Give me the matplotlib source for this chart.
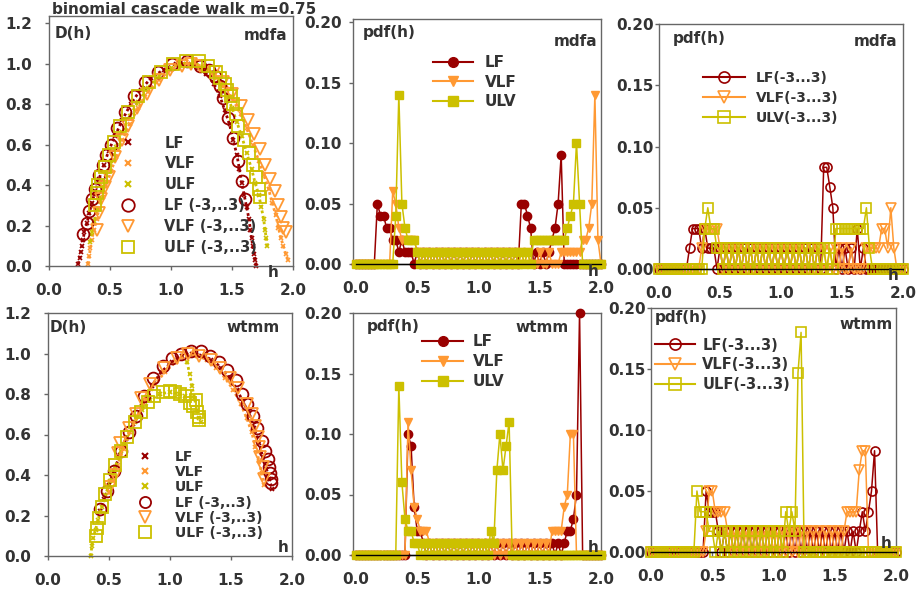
import numpy as np
import matplotlib.pyplot as plt
from matplotlib.lines import Line2D

plt.rcParams['font.family'] = ['DejaVu Sans']
plt.rcParams['font.weight'] = 'bold'

C_LF = '#990000'
C_VLF = '#FF9933'
C_ULF = '#CCC000'
TXT = '#333333'

# ---------------- D(h) spectra, mdfa (top left) ----------------
mdfa_lf_h = [0.24, 0.25, 0.26, 0.27, 0.28, 0.29, 0.31, 0.33, 0.35, 0.38, 0.41, 0.45, 0.49, 0.54, 0.60,
             0.67, 0.75, 0.84, 0.94, 1.04, 1.14, 1.22, 1.29, 1.35, 1.40, 1.44, 1.48, 1.51, 1.54, 1.56,
             1.58, 1.60, 1.62, 1.64, 1.65, 1.66, 1.67, 1.68, 1.69, 1.70]
mdfa_lf_D = [0.01, 0.04, 0.07, 0.10, 0.13, 0.17, 0.21, 0.26, 0.31, 0.37, 0.43, 0.50, 0.57, 0.64, 0.72,
             0.80, 0.87, 0.93, 0.97, 1.00, 1.00, 0.98, 0.95, 0.90, 0.84, 0.77, 0.70, 0.62, 0.55, 0.48,
             0.41, 0.35, 0.29, 0.23, 0.18, 0.14, 0.10, 0.06, 0.03, 0.00]
mdfa_vlf_h = [0.32, 0.33, 0.34, 0.35, 0.37, 0.39, 0.41, 0.44, 0.47, 0.51, 0.55, 0.60, 0.66, 0.73, 0.81,
              0.90, 1.00, 1.10, 1.20, 1.30, 1.38, 1.45, 1.51, 1.57, 1.62, 1.67, 1.72, 1.76, 1.80, 1.83,
              1.86, 1.88, 1.90, 1.92, 1.94, 1.96]
mdfa_vlf_D = [0.01, 0.05, 0.09, 0.13, 0.18, 0.23, 0.28, 0.34, 0.40, 0.47, 0.54, 0.62, 0.70, 0.78, 0.86,
              0.92, 0.97, 1.00, 1.00, 0.97, 0.93, 0.88, 0.82, 0.75, 0.68, 0.60, 0.52, 0.45, 0.38, 0.31,
              0.25, 0.19, 0.14, 0.10, 0.06, 0.03]
mdfa_ulf_h = [0.34, 0.35, 0.37, 0.39, 0.41, 0.44, 0.47, 0.51, 0.55, 0.60, 0.66, 0.73, 0.81, 0.90, 1.00,
              1.10, 1.20, 1.28, 1.35, 1.41, 1.46, 1.50, 1.54, 1.58, 1.62, 1.66, 1.69, 1.72, 1.74, 1.76,
              1.77, 1.78, 1.79]
mdfa_ulf_D = [0.12, 0.17, 0.22, 0.28, 0.33, 0.39, 0.45, 0.52, 0.59, 0.66, 0.74, 0.81, 0.88, 0.94, 0.98,
              1.00, 1.00, 0.98, 0.95, 0.90, 0.84, 0.78, 0.71, 0.64, 0.56, 0.48, 0.41, 0.35, 0.29, 0.23,
              0.18, 0.14, 0.10]
mdfa_lf3_h = [0.28, 0.31, 0.33, 0.35, 0.38, 0.41, 0.44, 0.47, 0.51, 0.56, 0.62, 0.70, 0.79, 0.89, 1.01,
              1.13, 1.24, 1.31, 1.36, 1.40, 1.43, 1.47, 1.51, 1.55, 1.58, 1.61]
mdfa_lf3_D = [0.16, 0.21, 0.27, 0.33, 0.38, 0.45, 0.50, 0.55, 0.60, 0.68, 0.76, 0.84, 0.91, 0.96, 1.00,
              1.01, 0.99, 0.97, 0.94, 0.89, 0.83, 0.73, 0.63, 0.52, 0.42, 0.33]
mdfa_vlf3_h = [0.39, 0.41, 0.43, 0.46, 0.49, 0.54, 0.60, 0.65, 0.72, 0.80, 0.90, 0.99, 1.09, 1.16, 1.24,
               1.35, 1.43, 1.50, 1.57, 1.63, 1.68, 1.73, 1.77, 1.81, 1.85, 1.88, 1.90, 1.92, 1.94]
mdfa_vlf3_D = [0.18, 0.26, 0.33, 0.39, 0.44, 0.54, 0.62, 0.69, 0.78, 0.85, 0.92, 0.97, 0.99, 1.00, 0.99,
               0.96, 0.91, 0.85, 0.79, 0.72, 0.65, 0.58, 0.50, 0.43, 0.37, 0.30, 0.24, 0.19, 0.17]
mdfa_ulf3_h = [0.38, 0.39, 0.40, 0.43, 0.46, 0.49, 0.53, 0.58, 0.65, 0.73, 0.82, 0.92, 1.02, 1.12, 1.23,
               1.30, 1.37, 1.40, 1.44, 1.46, 1.49, 1.51, 1.53, 1.55, 1.60, 1.64, 1.67, 1.70, 1.72, 1.73]
mdfa_ulf3_D = [0.30, 0.36, 0.40, 0.44, 0.49, 0.55, 0.61, 0.69, 0.76, 0.84, 0.91, 0.96, 1.00, 1.01, 1.01,
               0.99, 0.96, 0.93, 0.90, 0.87, 0.84, 0.80, 0.75, 0.69, 0.62, 0.56, 0.50, 0.44, 0.38, 0.34]

# ---------------- D(h) spectra, wtmm (bottom left) ----------------
wtmm_lf_h = [0.43, 0.46, 0.50, 0.54, 0.59, 0.64, 0.70, 0.77, 0.85, 0.93, 1.02, 1.10, 1.18, 1.26, 1.34,
             1.42, 1.49, 1.55, 1.60, 1.65, 1.69, 1.73, 1.76, 1.79, 1.81, 1.84]
wtmm_lf_D = [0.22, 0.28, 0.35, 0.42, 0.50, 0.58, 0.65, 0.74, 0.84, 0.91, 0.96, 0.99, 1.00, 0.99, 0.97,
             0.93, 0.88, 0.82, 0.76, 0.70, 0.63, 0.56, 0.49, 0.43, 0.38, 0.33]
wtmm_vlf_h = [0.50, 0.53, 0.57, 0.62, 0.67, 0.73, 0.80, 0.88, 0.96, 1.05, 1.14, 1.22, 1.30, 1.38, 1.45,
              1.52, 1.58, 1.63, 1.67, 1.70, 1.73, 1.75, 1.77]
wtmm_vlf_D = [0.31, 0.37, 0.45, 0.53, 0.61, 0.69, 0.77, 0.85, 0.91, 0.96, 0.99, 0.99, 0.97, 0.93, 0.88,
              0.82, 0.75, 0.68, 0.61, 0.54, 0.47, 0.41, 0.35]
wtmm_ulf_h = [0.35, 0.36, 0.37, 0.39, 0.41, 0.44, 0.47, 0.51, 0.55, 0.60, 0.65, 0.71, 0.77, 0.84, 0.92,
              1.00, 1.07, 1.12, np.nan, 1.14, 1.16, 1.18, 1.20, 1.22, 1.24, 1.25]
wtmm_ulf_D = [0.00, 0.05, 0.09, 0.13, 0.18, 0.24, 0.30, 0.37, 0.44, 0.52, 0.59, 0.66, 0.72, 0.77, 0.80,
              0.81, 0.80, 0.79, np.nan, 0.96, 0.90, 0.84, 0.78, 0.72, 0.68, 0.66]
wtmm_lf3_h = [0.43, 0.48, 0.54, 0.60, 0.66, 0.72, 0.79, 0.86, 0.94, 1.02, 1.09, 1.17, 1.25, 1.33, 1.40,
              1.47, 1.54, 1.59, 1.63, 1.68, 1.71, 1.75, 1.78, 1.80, 1.81, 1.82, 1.83, 1.83]
wtmm_lf3_D = [0.23, 0.32, 0.42, 0.52, 0.61, 0.69, 0.79, 0.88, 0.94, 0.98, 1.00, 1.01, 1.01, 0.99, 0.96,
              0.92, 0.87, 0.80, 0.75, 0.69, 0.63, 0.57, 0.52, 0.48, 0.44, 0.41, 0.38, 0.36]
wtmm_vlf3_h = [0.51, 0.55, 0.57, 0.59, 0.66, 0.72, 0.76, 0.84, 0.95, 1.06, 1.15, 1.24, 1.34, 1.41, 1.49,
               1.56, 1.63, 1.67, 1.70, 1.72, 1.73, 1.74, 1.76, 1.77]
wtmm_vlf3_D = [0.34, 0.40, 0.51, 0.56, 0.63, 0.70, 0.78, 0.85, 0.93, 0.98, 1.00, 0.99, 0.97, 0.93, 0.88,
               0.83, 0.75, 0.70, 0.64, 0.59, 0.54, 0.49, 0.44, 0.38]
wtmm_ulf3_h = [0.39, 0.40, 0.415, 0.44, 0.47, 0.505, 0.55, 0.60, 0.65, 0.71, 0.76, 0.82, 0.87, 0.94, 1.00,
               1.04, 1.085, 1.125, 1.16, 1.19, 1.21, 1.22, 1.235, 1.24]
wtmm_ulf3_D = [0.10, 0.14, 0.19, 0.24, 0.305, 0.375, 0.45, 0.52, 0.59, 0.66, 0.71, 0.76, 0.79, 0.81, 0.817,
               0.81, 0.80, 0.79, 0.755, 0.74, 0.77, 0.713, 0.685, 0.67]

# ---------------- pdf(h) histograms, bins 0..2 step 0.025 ----------------
h_bins = np.linspace(0, 2, 81)

pdf_mdfa_lf = [0, 0, 0, 0, 0, 0, 0, .05, .04, .04,
               .03, .03, .02, .02, .01, .02, .01, .01, .01, 0,
               .01, 0, .01, 0, .01, 0, .01, 0, .01, 0,
               .01, 0, .01, 0, .01, 0, .01, 0, .01, 0,
               .01, 0, .01, 0, .01, 0, .01, 0, .01, 0,
               .01, 0, .01, 0, .05, .05, .04, .03, 0, .01,
               0, .01, 0, .01, .02, .03, .05, .09, 0, 0,
               0, 0, 0, 0, 0, 0, 0, 0, 0, 0,
               0]
pdf_mdfa_vlf = [0, 0, 0, 0, 0, 0, 0, 0, 0, 0,
                0, 0, .06, .05, .03, .02, .02, .02, .02, .02,
                .01, 0, .01, 0, .01, 0, .01, 0, .01, 0,
                .01, 0, .01, 0, .01, 0, .01, 0, .01, 0,
                .01, 0, .01, 0, .01, 0, .01, 0, .01, 0,
                .01, 0, .01, 0, .01, 0, .01, 0, 0, 0,
                .01, 0, 0, .01, 0, 0, 0, .01, .01, .01,
                .01, .01, .01, .01, .02, .02, .03, .05, .14, .02,
                0]
pdf_mdfa_ulv = [0, 0, 0, 0, 0, 0, 0, 0, 0, 0,
                0, 0, 0, .04, .14, .05, .03, .02, .02, .02,
                .01, 0, .01, 0, .01, 0, .01, 0, .01, 0,
                .01, 0, .01, 0, .01, 0, .01, 0, .01, 0,
                .01, 0, .01, 0, .01, 0, .01, 0, .01, 0,
                .01, 0, .01, 0, .01, 0, .01, 0, .02, .02,
                .02, .02, .02, .02, .02, .02, .02, .02, .02, .03,
                .04, .05, .10, .05, 0, 0, 0, 0, 0, 0,
                0]
pdf_mdfa3_lf = [0, 0, 0, 0, 0, 0, 0, 0, 0, 0,
                .017, .033, .033, .033, .017, .033, .017, .017, .017, 0,
                .017, 0, .017, 0, .017, 0, .017, 0, .017, 0,
                .017, 0, .017, 0, .017, 0, .017, 0, .017, 0,
                .017, 0, .017, 0, .017, 0, .017, 0, .017, 0,
                .017, 0, .017, 0, .083, .083, .067, .05, 0, .017,
                0, .017, 0, .017, 0, .033, 0, .017, 0, 0,
                0, 0, 0, 0, 0, 0, 0, 0, 0, 0,
                0]
pdf_mdfa3_vlf = [0, 0, 0, 0, 0, 0, 0, 0, 0, 0,
                 0, 0, 0, 0, .017, .033, .033, .033, .033, .033,
                 .017, 0, .017, 0, .017, 0, .017, 0, .017, 0,
                 .017, 0, .017, 0, .017, 0, .017, 0, .017, 0,
                 .017, 0, .017, 0, .017, 0, .017, 0, .017, 0,
                 .017, 0, .017, 0, .017, 0, .017, 0, .017, 0,
                 .017, 0, 0, .017, 0, 0, 0, 0, .017, .017,
                 .017, .017, .017, .033, .033, .017, .05, .017, 0, 0,
                 0]
pdf_mdfa3_ulv = [0, 0, 0, 0, 0, 0, 0, 0, 0, 0,
                 0, 0, 0, 0, 0, .033, .05, .033, .033, .017,
                 .017, 0, .017, 0, .017, 0, .017, 0, .017, 0,
                 .017, 0, .017, 0, .017, 0, .017, 0, .017, 0,
                 .017, 0, .017, 0, .017, 0, .017, 0, .017, 0,
                 .017, 0, .017, 0, .017, 0, .017, 0, .033, .033,
                 .033, .033, .033, .033, .033, .033, .033, .033, .05, .017,
                 0, 0, 0, 0, 0, 0, 0, 0, 0, 0,
                 0]
pdf_wtmm_lf = [0, 0, 0, 0, 0, 0, 0, 0, 0, 0,
               0, 0, 0, 0, 0, 0, 0, .10, .09, .04,
               .02, .02, .01, 0, .01, 0, .01, 0, .01, 0,
               .01, 0, .01, 0, .01, 0, .01, 0, .01, 0,
               .01, 0, .01, 0, .01, 0, .01, 0, .01, 0,
               .01, 0, .01, 0, .01, 0, .01, 0, .01, 0,
               .01, 0, .01, 0, .01, 0, .01, 0, .01, .02,
               .02, .03, .05, .20, 0, 0, 0, 0, 0, 0,
               0]
pdf_wtmm_vlf = [0, 0, 0, 0, 0, 0, 0, 0, 0, 0,
                0, 0, 0, 0, 0, 0, 0, .11, .07, .04,
                .03, .02, .02, .02, .01, 0, .01, 0, .01, 0,
                .01, 0, .01, 0, .01, 0, .01, 0, .01, 0,
                .01, 0, .01, 0, .01, 0, .01, 0, .01, 0,
                .01, 0, .01, 0, .01, 0, .01, 0, .01, 0,
                .01, 0, .01, 0, .02, .02, .02, .02, .04, .05,
                .10, .10, 0, 0, 0, 0, 0, 0, 0, 0,
                0]
pdf_wtmm_ulv = [0, 0, 0, 0, 0, 0, 0, 0, 0, 0,
                0, 0, 0, 0, .14, .06, .03, .02, .02, .01,
                .01, 0, .01, 0, .01, 0, .01, 0, .01, 0,
                .01, 0, .01, 0, .01, 0, .01, 0, .01, 0,
                .01, 0, .01, 0, .02, .01, .07, .10, .07, .09,
                .11, 0, 0, 0, 0, 0, 0, 0, 0, 0,
                0, 0, 0, 0, 0, 0, 0, 0, 0, 0,
                0, 0, 0, 0, 0, 0, 0, 0, 0, 0,
                0]
pdf_wtmm3_lf = [0, 0, 0, 0, 0, 0, 0, 0, 0, 0,
                0, 0, 0, 0, 0, 0, 0, 0, .05, .033,
                .033, .033, .017, 0, .017, 0, .017, 0, .017, 0,
                .017, 0, .017, 0, .017, 0, .017, 0, .017, 0,
                .017, 0, .017, 0, .017, 0, .017, 0, .017, 0,
                .017, 0, .017, 0, .017, 0, .017, 0, .017, 0,
                .017, 0, .017, 0, .017, 0, .017, 0, .017, .033,
                .017, .033, .05, .083, 0, 0, 0, 0, 0, 0,
                0]
pdf_wtmm3_vlf = [0, 0, 0, 0, 0, 0, 0, 0, 0, 0,
                 0, 0, 0, 0, 0, 0, 0, 0, .017, .05,
                 .05, .033, .033, .033, .033, .017, 0, .017, 0, .017,
                 0, .017, 0, .017, 0, .017, 0, .017, 0, .017,
                 0, .017, 0, .017, 0, .017, 0, .017, 0, .017,
                 0, .017, 0, .017, 0, .017, 0, .017, 0, .017,
                 0, .017, 0, .017, .033, .033, .033, .033, .067, .083,
                 .083, 0, 0, 0, 0, 0, 0, 0, 0, 0,
                 0]
pdf_wtmm3_ulf = [0, 0, 0, 0, 0, 0, 0, 0, 0, 0,
                 0, 0, 0, 0, 0, .05, .033, .033, .033, .017,
                 .017, 0, .017, 0, .017, 0, .017, 0, .017, 0,
                 .017, 0, .017, 0, .017, 0, .017, 0, .017, 0,
                 .017, 0, .017, 0, .033, .017, .033, .017, .147, .18,
                 0, 0, 0, 0, 0, 0, 0, 0, 0, 0,
                 0, 0, 0, 0, 0, 0, 0, 0, 0, 0,
                 0, 0, 0, 0, 0, 0, 0, 0, 0, 0,
                 0]

W, H = 916, 591
fig = plt.figure(figsize=(W / 100, H / 100), dpi=100)


def px(x, y):
    return x / W, 1 - y / H


def add_ax(x0, x1, ytop, ybot):
    return fig.add_axes([x0 / W, 1 - ybot / H, (x1 - x0) / W, (ybot - ytop) / H])


def style(ax, yticks, fmt, ypad):
    for s in ax.spines.values():
        s.set_color('#666666')
        s.set_linewidth(1.0)
    ax.set_xticks([0, 0.5, 1.0, 1.5, 2.0])
    ax.set_xticklabels(['%.1f' % v for v in [0, 0.5, 1.0, 1.5, 2.0]])
    ax.set_yticks(yticks)
    ax.set_yticklabels([fmt % v for v in yticks])
    ax.tick_params(axis='both', direction='out', length=3, width=1, colors='#666666',
                   labelcolor=TXT, labelsize=11)
    ax.tick_params(axis='x', pad=9.5)
    ax.tick_params(axis='y', pad=ypad)


def dense(ax, h, d, c):
    ax.plot(h, d, ls=(0, (1, 1)), lw=2.0, color=c, marker='x', ms=3, mew=1.2, clip_on=False, zorder=2)


def open_pts(ax, h, d, c, m, ms):
    ax.plot(h, d, ls='none', marker=m, ms=ms, mfc='none', mec=c, mew=1.3, clip_on=False, zorder=3)


def spectrum_legend(ax, anchor, fs, ls, hl, tp, ms_open, labels3):
    handles = [Line2D([], [], ls='none', marker='x', color=C_LF, ms=4, mew=1.5),
               Line2D([], [], ls='none', marker='x', color=C_VLF, ms=4, mew=1.5),
               Line2D([], [], ls='none', marker='x', color=C_ULF, ms=4, mew=1.5),
               Line2D([], [], ls='none', marker='o', mfc='none', mec=C_LF, ms=ms_open, mew=1.3),
               Line2D([], [], ls='none', marker='v', mfc='none', mec=C_VLF, ms=ms_open, mew=1.3),
               Line2D([], [], ls='none', marker='s', mfc='none', mec=C_ULF, ms=ms_open, mew=1.3)]
    labels = ['LF', 'VLF', 'ULF'] + labels3
    leg = ax.legend(handles, labels, loc='upper left', bbox_to_anchor=anchor, frameon=False,
                    fontsize=fs, labelspacing=ls, handlelength=hl, handletextpad=tp,
                    borderpad=0, borderaxespad=0)
    for t in leg.get_texts():
        t.set_color(TXT)


def pdf_panel(ax, series, filled, ms):
    for vals, c, m in series:
        if filled:
            ax.plot(h_bins, vals, color=c, lw=1.1, marker=m, ms=ms, mfc=c, mec=c, clip_on=False, zorder=3)
        else:
            ax.plot(h_bins, vals, color=c, lw=1.1, marker=m, ms=ms, mfc='none', mec=c, mew=1.2,
                    clip_on=False, zorder=3)
    ax.plot([0, 2], [0, 0], color='black', lw=1.0, zorder=6, clip_on=False)


def pdf_legend(ax, labels, anchor, fs, ls, hl, tp, filled, ms):
    handles = []
    for c, m in [(C_LF, 'o'), (C_VLF, 'v'), (C_ULF, 's')]:
        if filled:
            handles.append(Line2D([], [], color=c, lw=1.5, marker=m, ms=ms, mfc=c, mec=c))
        else:
            handles.append(Line2D([], [], color=c, lw=1.5, marker=m, ms=ms, mfc='none', mec=c, mew=1.2))
    leg = ax.legend(handles, labels, loc='upper left', bbox_to_anchor=anchor, frameon=False,
                    fontsize=fs, labelspacing=ls, handlelength=hl, handletextpad=tp,
                    borderpad=0, borderaxespad=0)
    for t in leg.get_texts():
        t.set_color(TXT)


pdf_yt = [0, 0.05, 0.10, 0.15, 0.20]
d_yt = [0, 0.2, 0.4, 0.6, 0.8, 1.0, 1.2]

# ---- top left: D(h) mdfa
ax = add_ax(49, 293, 16, 266)
ax.set_xlim(0, 2)
ax.set_ylim(0, 1.2346)
style(ax, d_yt, '%.1f', 9)
dense(ax, mdfa_lf_h, mdfa_lf_D, C_LF)
dense(ax, mdfa_vlf_h, mdfa_vlf_D, C_VLF)
dense(ax, mdfa_ulf_h, mdfa_ulf_D, C_ULF)
open_pts(ax, mdfa_lf3_h, mdfa_lf3_D, C_LF, 'o', 8.5)
open_pts(ax, mdfa_vlf3_h, mdfa_vlf3_D, C_VLF, 'v', 8.5)
open_pts(ax, mdfa_ulf3_h, mdfa_ulf3_D, C_ULF, 's', 8)
spectrum_legend(ax, (0.276, 0.522), 10.5, 0.41, 1.6, 1.7, 9,
                ['LF (-3,..3)', 'VLF (-3,..3)', 'ULF (-3,..3)'])

# ---- top middle: pdf mdfa
ax = add_ax(353, 601, 19, 264)
ax.set_xlim(-0.024, 2.0)
ax.set_ylim(0, 0.2025)
style(ax, pdf_yt, '%.2f', 5)
pdf_panel(ax, [(pdf_mdfa_lf, C_LF, 'o'), (pdf_mdfa_vlf, C_VLF, 'v'), (pdf_mdfa_ulv, C_ULF, 's')], True, 6)
pdf_legend(ax, ['LF', 'VLF', 'ULV'], (0.323, 0.853), 11, 0.3, 2.6, 0.8, True, 7)

# ---- top right: pdf mdfa (-3..3)
ax = add_ax(659, 903, 24, 269)
ax.set_xlim(0, 2)
ax.set_ylim(0, 0.2)
style(ax, pdf_yt, '%.2f', 1)
pdf_panel(ax, [(pdf_mdfa3_lf, C_LF, 'o'), (pdf_mdfa3_vlf, C_VLF, 'v'), (pdf_mdfa3_ulv, C_ULF, 's')], False, 6.5)
pdf_legend(ax, ['LF(-3...3)', 'VLF(-3...3)', 'ULV(-3...3)'], (0.18, 0.809), 10, 0.45, 3.0, 0.8, False, 8)

# ---- bottom left: D(h) wtmm
ax = add_ax(48, 292, 313, 556)
ax.set_xlim(0, 2)
ax.set_ylim(0, 1.2)
style(ax, d_yt, '%.1f', 9)
dense(ax, wtmm_lf_h, wtmm_lf_D, C_LF)
dense(ax, wtmm_vlf_h, wtmm_vlf_D, C_VLF)
dense(ax, wtmm_ulf_h, wtmm_ulf_D, C_ULF)
open_pts(ax, wtmm_lf3_h, wtmm_lf3_D, C_LF, 'o', 8.5)
open_pts(ax, wtmm_vlf3_h, wtmm_vlf3_D, C_VLF, 'v', 8.5)
open_pts(ax, wtmm_ulf3_h, wtmm_ulf3_D, C_ULF, 's', 8)
spectrum_legend(ax, (0.352, 0.437), 10, 0.09, 1.6, 1.36, 8,
                ['LF (-3,..3)', 'VLF (-3,..3)', 'ULF (-3,..3)'])

# ---- bottom middle: pdf wtmm
ax = add_ax(353, 601, 313, 555)
ax.set_xlim(-0.024, 2.0)
ax.set_ylim(0, 0.2)
style(ax, pdf_yt, '%.2f', 5)
pdf_panel(ax, [(pdf_wtmm_lf, C_LF, 'o'), (pdf_wtmm_vlf, C_VLF, 'v'), (pdf_wtmm_ulv, C_ULF, 's')], True, 6)
pdf_legend(ax, ['LF', 'VLF', 'ULV'], (0.278, 0.913), 11, 0.33, 2.7, 0.65, True, 7)

# ---- bottom right: pdf wtmm (-3..3)
ax = add_ax(651, 896, 308, 552)
ax.set_xlim(0, 2)
ax.set_ylim(0, 0.2)
style(ax, pdf_yt, '%.2f', 1)
pdf_panel(ax, [(pdf_wtmm3_lf, C_LF, 'o'), (pdf_wtmm3_vlf, C_VLF, 'v'), (pdf_wtmm3_ulf, C_ULF, 's')], False, 6.5)
pdf_legend(ax, ['LF(-3...3)', 'VLF(-3...3)', 'ULF(-3...3)'], (0.016, 0.879), 10.5, 0.34, 2.74, 0.5, False, 8)

# ---- panel texts
labels = [('binomial cascade walk m=0.75', 52, 10, 'left'),
          ('D(h)', 55, 33, 'left'), ('mdfa', 287, 35, 'right'),
          ('pdf(h)', 363, 32, 'left'), ('mdfa', 597, 41, 'right'),
          ('pdf(h)', 673, 38, 'left'), ('mdfa', 897, 42, 'right'),
          ('D(h)', 50, 327, 'left'), ('wtmm', 280, 327, 'right'),
          ('pdf(h)', 367, 327, 'left'), ('wtmm', 569, 328, 'right'),
          ('pdf(h)', 655, 318, 'left'), ('wtmm', 893, 325, 'right'),
          ('h', 273, 273, 'center'), ('h', 593, 271, 'center'), ('h', 893, 275, 'center'),
          ('h', 283, 547, 'center'), ('h', 593, 547, 'center'), ('h', 886, 543, 'center')]
for s, x, y, ha in labels:
    fig.text(*px(x, y), s, ha=ha, va='center', fontsize=11, color=TXT)

fig.savefig('out.png', dpi=100)
